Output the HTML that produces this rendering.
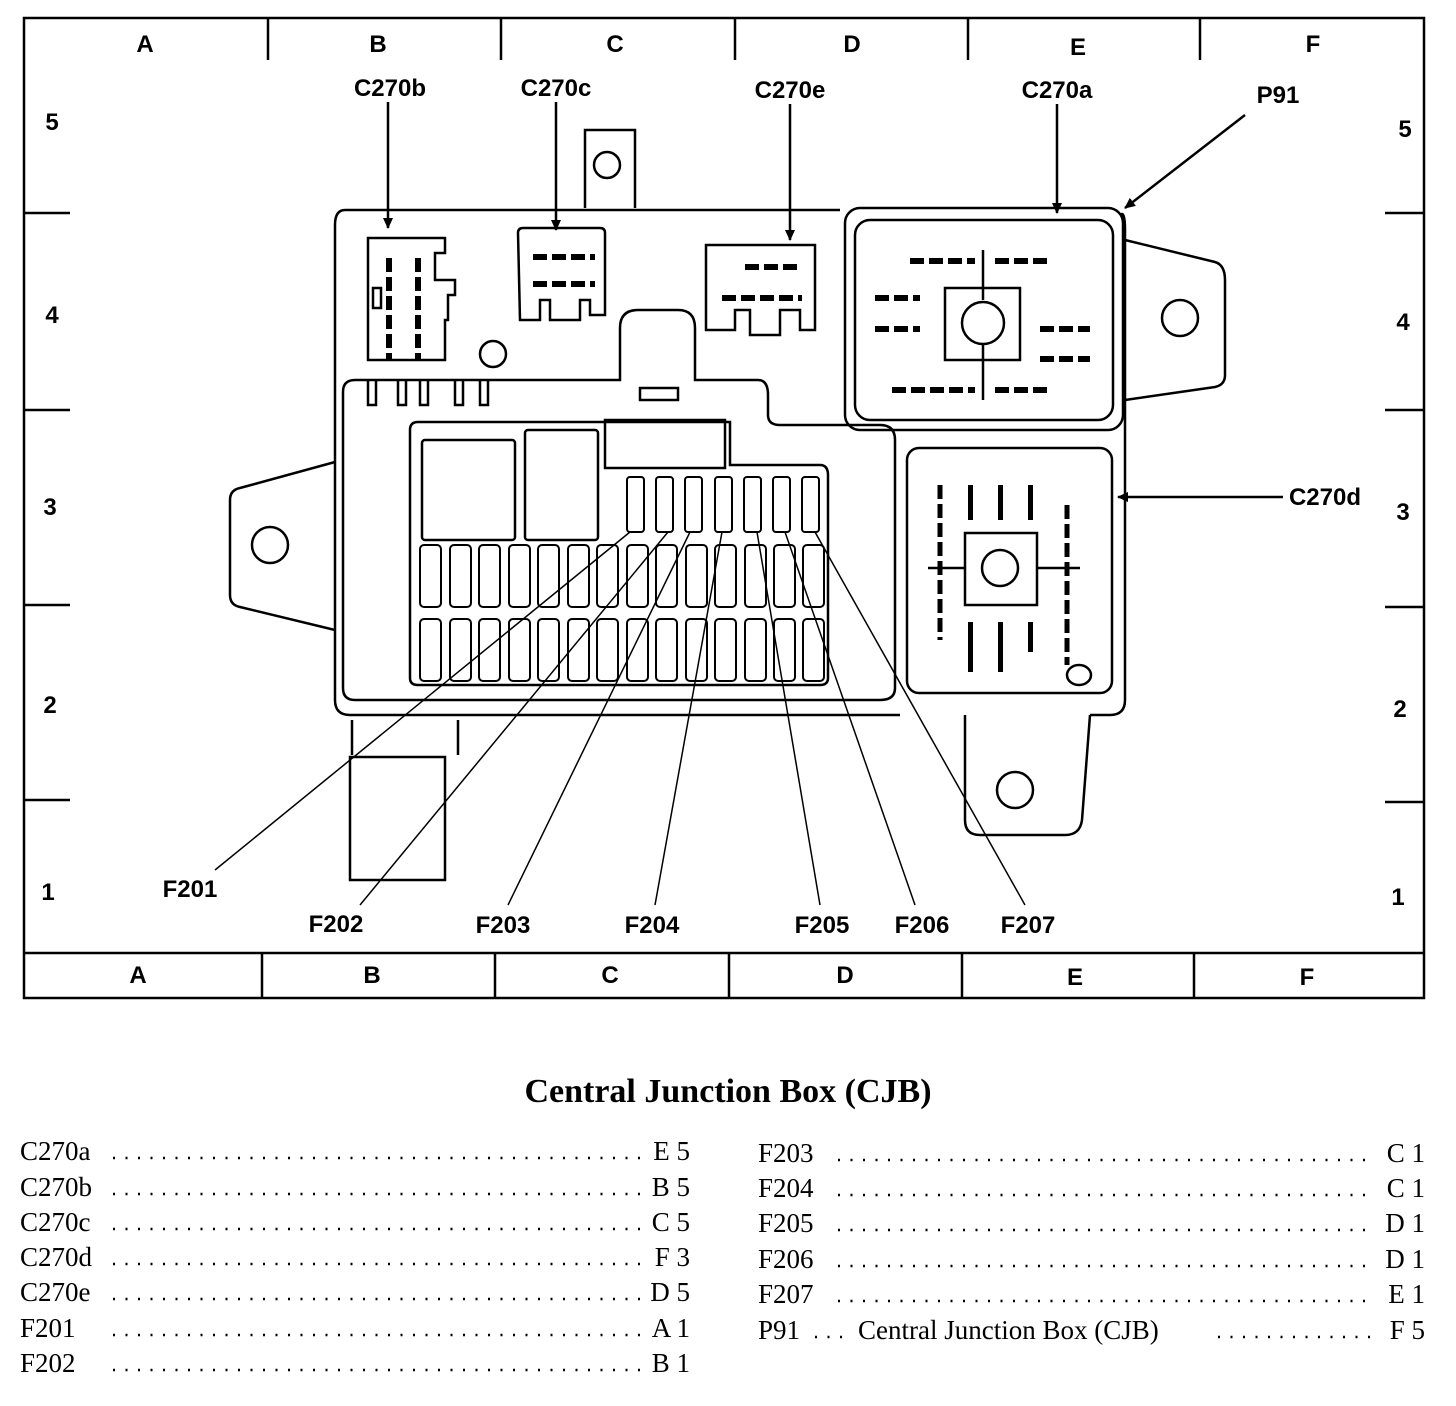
<!DOCTYPE html>
<html><head><style>
body{margin:0;background:#fff;width:1456px;height:1406px;overflow:hidden}
svg{display:block}
.lb{font-family:"Liberation Sans",sans-serif;font-weight:bold;font-size:24px}
.sr{font-family:"Liberation Serif",serif;font-size:27px}
</style></head><body>
<svg width="1456" height="1406" viewBox="0 0 1456 1406" xmlns="http://www.w3.org/2000/svg">
<defs><marker id="ar" markerWidth="12" markerHeight="12" refX="10" refY="5" orient="auto" markerUnits="userSpaceOnUse"><path d="M0,0 L11,5 L0,10 Z" fill="#000"/></marker></defs>
<g fill="none" stroke="#000" stroke-width="2.5">
<rect x="24" y="18" width="1400" height="980"/>
<line x1="24" y1="953" x2="1424" y2="953"/>
<line x1="268" y1="18" x2="268" y2="60"/><line x1="501" y1="18" x2="501" y2="60"/><line x1="735" y1="18" x2="735" y2="60"/><line x1="968" y1="18" x2="968" y2="60"/><line x1="1200" y1="18" x2="1200" y2="60"/>
<line x1="262" y1="953" x2="262" y2="998"/><line x1="495" y1="953" x2="495" y2="998"/><line x1="729" y1="953" x2="729" y2="998"/><line x1="962" y1="953" x2="962" y2="998"/><line x1="1194" y1="953" x2="1194" y2="998"/>
<line x1="24" y1="213" x2="70" y2="213"/><line x1="24" y1="410" x2="70" y2="410"/><line x1="24" y1="605" x2="70" y2="605"/><line x1="24" y1="800" x2="70" y2="800"/>
<line x1="1385" y1="213" x2="1424" y2="213"/><line x1="1385" y1="410" x2="1424" y2="410"/><line x1="1385" y1="607" x2="1424" y2="607"/><line x1="1385" y1="802" x2="1424" y2="802"/>
</g>
<g class="lb" text-anchor="middle">
<text x="145" y="52">A</text><text x="378" y="52">B</text><text x="615" y="52">C</text><text x="852" y="52">D</text><text x="1078" y="55">E</text><text x="1313" y="52">F</text>
<text x="138" y="983">A</text><text x="372" y="983">B</text><text x="610" y="983">C</text><text x="845" y="983">D</text><text x="1075" y="985">E</text><text x="1307" y="985">F</text>
<text x="52" y="130">5</text><text x="52" y="323">4</text><text x="50" y="515">3</text><text x="50" y="713">2</text><text x="48" y="900">1</text>
<text x="1405" y="137">5</text><text x="1403" y="330">4</text><text x="1403" y="520">3</text><text x="1400" y="717">2</text><text x="1398" y="905">1</text>
<text x="390" y="96">C270b</text><text x="556" y="96">C270c</text><text x="790" y="98">C270e</text><text x="1057" y="98">C270a</text><text x="1278" y="103">P91</text><text x="1325" y="505">C270d</text>
<text x="190" y="897">F201</text><text x="336" y="932">F202</text><text x="503" y="933">F203</text><text x="652" y="933">F204</text><text x="822" y="933">F205</text><text x="922" y="933">F206</text><text x="1028" y="933">F207</text>
</g>
<g fill="none" stroke="#000" stroke-width="2.5">
<line x1="388" y1="102" x2="388" y2="228" marker-end="url(#ar)"/>
<line x1="556" y1="102" x2="556" y2="230" marker-end="url(#ar)"/>
<line x1="790" y1="104" x2="790" y2="240" marker-end="url(#ar)"/>
<line x1="1057" y1="104" x2="1057" y2="213" marker-end="url(#ar)"/>
<line x1="1245" y1="115" x2="1125" y2="208" marker-end="url(#ar)"/>
<line x1="1283" y1="497" x2="1118" y2="497" marker-end="url(#ar)"/>
<path d="M585,208 V130 H635 V208"/><circle cx="607" cy="165" r="13"/>
<path d="M345,210 H840 M1120,215 Q1125,210 1125,230 V700 Q1125,715 1110,715 H1090 M345,210 Q335,210 335,225 V700 Q335,715 350,715 H900"/>
<path d="M1125,240 L1215,262 Q1225,265 1225,280 V375 Q1225,385 1215,387 L1125,400"/>
<circle cx="1180" cy="318" r="18"/>
<path d="M335,462 L240,488 Q230,490 230,500 V595 Q230,605 240,607 L335,630"/>
<circle cx="270" cy="545" r="18"/>
<path d="M965,715 V820 Q965,835 980,835 H1065 Q1080,835 1082,820 L1090,715"/>
<circle cx="1015" cy="790" r="18"/>
<rect x="350" y="757" width="95" height="123"/>
<path d="M352,755 V720 M458,720 V755"/>
<path d="M355,380 H620 V328 Q620,310 638,310 H678 Q695,310 695,328 V380 H758 Q768,380 768,395 V415 Q768,425 780,425 H880 Q895,425 895,440 V688 Q895,700 880,700 H355 Q343,700 343,688 V392 Q343,380 355,380 Z"/>
<rect x="640" y="388" width="38" height="12"/>
<path d="M368,380 V405 H376 V380 M398,380 V405 H406 V380 M420,380 V405 H428 V380 M455,380 V405 H463 V380 M480,380 V405 H488 V380"/>
<path d="M418,422 H730 V465 H820 Q828,465 828,475 V678 Q828,685 820,685 H418 Q410,685 410,678 V430 Q410,422 418,422 Z"/>
<rect x="422" y="440" width="93" height="100" rx="3"/>
<rect x="525" y="430" width="73" height="110" rx="3"/>
<rect x="605" y="420" width="120" height="48"/>
<path d="M368,238 H445 V253 H435 V280 H455 V295 H448 V320 H445 V360 H368 Z"/>
<rect x="373" y="288" width="8" height="20"/>
<circle cx="493" cy="354" r="13"/>
<path d="M518,233 Q518,228 523,228 H600 Q605,228 605,233 V315 H590 V300 H580 V320 H550 V300 H540 V320 H520 Z"/>
<path d="M706,245 H815 V330 H800 V310 H780 V335 H750 V310 H735 V330 H706 Z"/>
<rect x="845" y="208" width="278" height="222" rx="15"/>
<rect x="855" y="220" width="258" height="200" rx="15"/>
<rect x="907" y="448" width="205" height="245" rx="12"/>
<circle cx="983" cy="323" r="21"/><rect x="945" y="288" width="75" height="72"/>
<line x1="983" y1="250" x2="983" y2="300"/><line x1="983" y1="345" x2="983" y2="400"/>
<circle cx="1000" cy="568" r="18"/><rect x="965" y="533" width="72" height="72"/>
<line x1="928" y1="568" x2="965" y2="568"/><line x1="1037" y1="568" x2="1080" y2="568"/>
<ellipse cx="1079" cy="675" rx="12" ry="10"/>
<g stroke-width="2">
<rect x="627" y="477" width="17" height="55" rx="3"/><rect x="656" y="477" width="17" height="55" rx="3"/><rect x="685" y="477" width="17" height="55" rx="3"/><rect x="715" y="477" width="17" height="55" rx="3"/><rect x="744" y="477" width="17" height="55" rx="3"/><rect x="773" y="477" width="17" height="55" rx="3"/><rect x="802" y="477" width="17" height="55" rx="3"/>
</g>
<g stroke-width="2" id="row">
<rect x="420" y="545" width="21" height="62" rx="4"/><rect x="450" y="545" width="21" height="62" rx="4"/><rect x="479" y="545" width="21" height="62" rx="4"/><rect x="509" y="545" width="21" height="62" rx="4"/><rect x="538" y="545" width="21" height="62" rx="4"/><rect x="568" y="545" width="21" height="62" rx="4"/><rect x="597" y="545" width="21" height="62" rx="4"/><rect x="627" y="545" width="21" height="62" rx="4"/><rect x="656" y="545" width="21" height="62" rx="4"/><rect x="686" y="545" width="21" height="62" rx="4"/><rect x="715" y="545" width="21" height="62" rx="4"/><rect x="745" y="545" width="21" height="62" rx="4"/><rect x="774" y="545" width="21" height="62" rx="4"/><rect x="803" y="545" width="21" height="62" rx="4"/>
</g>
<use href="#row" y="74"/>
<g stroke-width="1.5">
<line x1="215" y1="870" x2="630" y2="532"/><line x1="360" y1="905" x2="668" y2="532"/><line x1="508" y1="905" x2="690" y2="532"/><line x1="655" y1="905" x2="722" y2="532"/><line x1="820" y1="905" x2="757" y2="532"/><line x1="915" y1="905" x2="785" y2="532"/><line x1="1025" y1="905" x2="815" y2="532"/>
</g>
</g>
<g stroke="#000" fill="none" stroke-width="6" stroke-dasharray="14,5">
<line x1="389" y1="258" x2="389" y2="360"/><line x1="418" y1="258" x2="418" y2="360"/>
<line x1="533" y1="257" x2="595" y2="257"/><line x1="533" y1="284" x2="595" y2="284"/>
<line x1="745" y1="267" x2="800" y2="267"/><line x1="722" y1="298" x2="802" y2="298"/>
<line x1="910" y1="261" x2="975" y2="261"/><line x1="995" y1="261" x2="1050" y2="261"/>
<line x1="875" y1="298" x2="920" y2="298"/><line x1="875" y1="329" x2="920" y2="329"/>
<line x1="1040" y1="329" x2="1090" y2="329"/><line x1="1040" y1="359" x2="1090" y2="359"/>
<line x1="892" y1="390" x2="975" y2="390"/><line x1="995" y1="390" x2="1052" y2="390"/>
<line x1="940" y1="485" x2="940" y2="640" stroke-width="5"/>
<line x1="1067" y1="505" x2="1067" y2="665" stroke-width="5"/>
</g>
<g fill="#000">
<rect x="968" y="485" width="5" height="35"/><rect x="998" y="485" width="5" height="35"/><rect x="1028" y="485" width="5" height="35"/>
<rect x="968" y="622" width="5" height="50"/><rect x="998" y="622" width="5" height="50"/><rect x="1028" y="622" width="5" height="30"/>
</g>
<text x="728" y="1102" text-anchor="middle" font-family="Liberation Serif,serif" font-weight="bold" font-size="34">Central Junction Box (CJB)</text>
<g class="sr">
<text x="20" y="1160">C270a</text><text x="20" y="1196">C270b</text><text x="20" y="1231">C270c</text><text x="20" y="1266">C270d</text><text x="20" y="1301">C270e</text><text x="20" y="1337">F201</text><text x="20" y="1372">F202</text>
<g text-anchor="end"><text x="690" y="1160">E 5</text><text x="690" y="1196">B 5</text><text x="690" y="1231">C 5</text><text x="690" y="1266">F 3</text><text x="690" y="1301">D 5</text><text x="690" y="1337">A 1</text><text x="690" y="1372">B 1</text></g>
<text x="758" y="1162">F203</text><text x="758" y="1197">F204</text><text x="758" y="1232">F205</text><text x="758" y="1268">F206</text><text x="758" y="1303">F207</text><text x="758" y="1339">P91</text><text x="858" y="1339">Central Junction Box (CJB)</text>
<g text-anchor="end"><text x="1425" y="1162">C 1</text><text x="1425" y="1197">C 1</text><text x="1425" y="1232">D 1</text><text x="1425" y="1268">D 1</text><text x="1425" y="1303">E 1</text><text x="1425" y="1339">F 5</text></g>
</g>
<g stroke="#000" stroke-width="2.5" stroke-dasharray="2,10.5">
<line x1="113" y1="1158" x2="640" y2="1158"/><line x1="113" y1="1194" x2="640" y2="1194"/><line x1="113" y1="1229" x2="640" y2="1229"/><line x1="113" y1="1264" x2="640" y2="1264"/><line x1="113" y1="1299" x2="640" y2="1299"/><line x1="113" y1="1335" x2="640" y2="1335"/><line x1="113" y1="1370" x2="640" y2="1370"/>
<line x1="838" y1="1160" x2="1375" y2="1160"/><line x1="838" y1="1195" x2="1375" y2="1195"/><line x1="838" y1="1230" x2="1375" y2="1230"/><line x1="838" y1="1266" x2="1375" y2="1266"/><line x1="838" y1="1301" x2="1375" y2="1301"/>
<line x1="815" y1="1337" x2="845" y2="1337"/><line x1="1218" y1="1337" x2="1375" y2="1337"/>
</g>
</svg>
</body></html>
